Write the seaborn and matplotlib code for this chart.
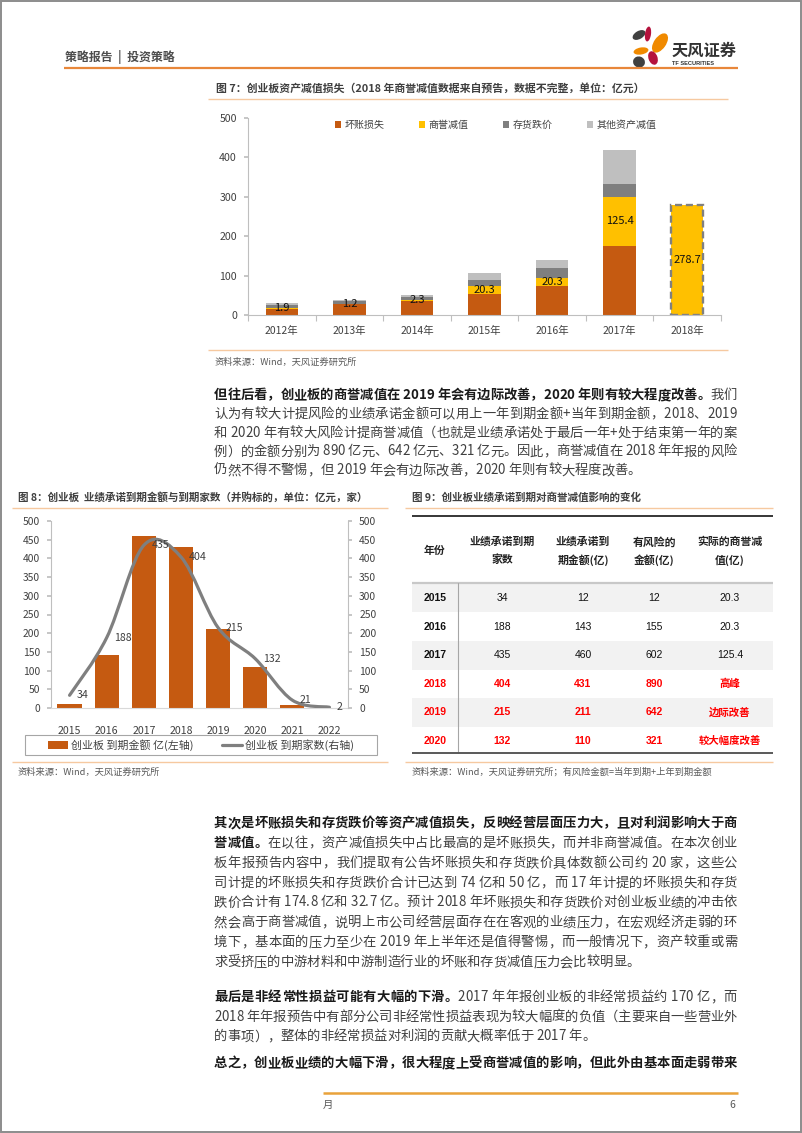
import numpy as np
import pandas as pd
import matplotlib
matplotlib.use('Agg')
import matplotlib.pyplot as plt
import seaborn as sns
from matplotlib.patches import Rectangle, Ellipse, Patch, PathPatch
from matplotlib.lines import Line2D
from matplotlib.path import Path
from matplotlib.font_manager import FontProperties, findfont, get_font

# ---------------- data ----------------
years7 = ['2012年', '2013年', '2014年', '2015年', '2016年', '2017年', '2018年']
bad_debt = [16, 27, 36, 53, 74, 174.8, 0]
goodwill = [1.9, 1.2, 2.3, 20.3, 20.3, 125.4, 278.7]
inventory = [8, 6.5, 8, 15.5, 25, 32.7, 0]
other_assets = [4, 3, 4, 17.5, 20, 85, 0]
legend7 = ['坏账损失', '商誉减值', '存货跌价', '其他资产减值']

years8 = ['2015', '2016', '2017', '2018', '2019', '2020', '2021', '2022']
amount8 = [12, 143, 460, 431, 211, 110, 7, 0]
count8 = [34, 188, 435, 404, 215, 132, 21, 2]
legend8 = ['创业板 到期金额 亿(左轴)', '创业板 到期家数(右轴)']

table_headers = [['年份'], ['业绩承诺到期', '家数'], ['业绩承诺到', '期金额(亿)'],
                 ['有风险的', '金额(亿)'], ['实际的商誉减', '值(亿)']]
table_years = ['2015', '2016', '2017', '2018', '2019', '2020']
table_count = ['34', '188', '435', '404', '215', '132']
table_amount = ['12', '143', '460', '431', '211', '110']
table_risk = ['12', '155', '602', '890', '642', '321']
table_goodwill = ['20.3', '20.3', '125.4', '高峰', '边际改善', '较大幅度改善']
table_red = [False, False, False, True, True, True]

title7 = '图 7：创业板资产减值损失（2018 年商誉减值数据来自预告，数据不完整，单位：亿元）'
title8 = '图 8：创业板  业绩承诺到期金额与到期家数（并购标的，单位：亿元，家）'
title9 = '图 9：创业板业绩承诺到期对商誉减值影响的变化'
source_a = '资料来源：Wind，天风证券研究所'
source_b = '资料来源：Wind，天风证券研究所；有风险金额=当年到期+上年到期金额'

para1 = [
    [("但往后看，创业板的商誉减值在 2019 年会有边际改善，2020 年则有较大程度改善。", True), ("我们", False)],
    [("认为有较大计提风险的业绩承诺金额可以用上一年到期金额+当年到期金额，2018、2019", False)],
    [("和 2020 年有较大风险计提商誉减值（也就是业绩承诺处于最后一年+处于结束第一年的案", False)],
    [("例）的金额分别为 890 亿元、642 亿元、321 亿元。因此，商誉减值在 2018 年年报的风险", False)],
    [("仍然不得不警惕，但 2019 年会有边际改善，2020 年则有较大程度改善。", False)],
]
para2 = [
    [("其次是坏账损失和存货跌价等资产减值损失，反映经营层面压力大，且对利润影响大于商", True)],
    [("誉减值。", True), ("在以往，资产减值损失中占比最高的是坏账损失，而并非商誉减值。在本次创业", False)],
    [("板年报预告内容中，我们提取有公告坏账损失和存货跌价具体数额公司约 20 家，这些公", False)],
    [("司计提的坏账损失和存货跌价合计已达到 74 亿和 50 亿，而 17 年计提的坏账损失和存货", False)],
    [("跌价合计有 174.8 亿和 32.7 亿。预计 2018 年坏账损失和存货跌价对创业板业绩的冲击依", False)],
    [("然会高于商誉减值，说明上市公司经营层面存在在客观的业绩压力，在宏观经济走弱的环", False)],
    [("境下，基本面的压力至少在 2019 年上半年还是值得警惕，而一般情况下，资产较重或需", False)],
    [("求受挤压的中游材料和中游制造行业的坏账和存货减值压力会比较明显。", False)],
]
para3 = [
    [("最后是非经常性损益可能有大幅的下滑。", True), ("2017 年年报创业板的非经常损益约 170 亿，而", False)],
    [("2018 年年报预告中有部分公司非经常性损益表现为较大幅度的负值（主要来自一些营业外", False)],
    [("的事项），整体的非经常损益对利润的贡献大概率低于 2017 年。", False)],
]
para4 = [
    [("总之，创业板业绩的大幅下滑，很大程度上受商誉减值的影响，但此外由基本面走弱带来", True)],
]

# ---------------- style ----------------
sns.set_theme(style='white')
plt.rcParams['font.family'] = ['Noto Sans CJK SC', 'DejaVu Sans']
plt.rcParams['axes.unicode_minus'] = False

W, H = 802, 1133
fig = plt.figure(figsize=(8.02, 11.33), dpi=100)
fig.patch.set_facecolor('white')


def axpx(l, t, r, b):
    return fig.add_axes([l / W, 1 - b / H, (r - l) / W, (b - t) / H])


C_ORANGE = '#C55A11'
C_YELLOW = '#FFC000'
C_DGRAY = '#7F7F7F'
C_LGRAY = '#BFBFBF'
TXT = '#404040'

# ---------------- figure 7 ----------------
ax7 = axpx(248, 118, 721, 315)
b = np.array(bad_debt, float)
g = np.array(goodwill, float)
iv = np.array(inventory, float)
o = np.array(other_assets, float)
layers = [(b + g + iv + o, C_LGRAY), (b + g + iv, C_DGRAY), (b + g, C_YELLOW), (b, C_ORANGE)]
yellow_patches = []
for k, (tops, col) in enumerate(layers):
    n0 = len(ax7.patches)
    sns.barplot(x=years7, y=tops, color=col, saturation=1, width=0.48,
                errorbar=None, ax=ax7, linewidth=0)
    if k == 2:
        yellow_patches = ax7.patches[n0:]
p18 = yellow_patches[-1]
p18.set_edgecolor('#808080')
p18.set_linewidth(1.7)
p18.set_linestyle((0, (3, 1.6)))
for i, (bv, gv) in enumerate(zip(bad_debt, goodwill)):
    ax7.text(i, bv + gv / 2, f'{gv}', ha='center', va='center', fontsize=8, color='#111111')
ax7.set_ylim(0, 500)
ax7.set_xlim(-0.5, 6.5)
ax7.set_yticks(range(0, 501, 100))
ax7.set_xticks(np.arange(-0.5, 7, 1), minor=True)
for s in ['top', 'right']:
    ax7.spines[s].set_visible(False)
for s in ['left', 'bottom']:
    ax7.spines[s].set_color('#BFBFBF')
    ax7.spines[s].set_linewidth(0.8)
ax7.tick_params(axis='y', left=True, length=3, color='#BFBFBF', labelsize=7.6, labelcolor=TXT, pad=5)
ax7.tick_params(axis='x', which='major', bottom=True, length=0, labelsize=7.5, labelcolor=TXT, pad=8)
ax7.tick_params(axis='x', which='minor', bottom=True, length=4, color='#BFBFBF', width=0.8)
ax7.set_xlabel('')
ax7.set_ylabel('')
h7 = [Patch(facecolor=c, edgecolor='none') for c in [C_ORANGE, C_YELLOW, C_DGRAY, C_LGRAY]]
ax7.legend(h7, legend7, ncol=4, loc='center', bbox_to_anchor=(0.524, 0.964), frameon=False,
           fontsize=7.2, handlelength=0.65, handleheight=0.65, handletextpad=0.35,
           columnspacing=3.4, labelcolor=TXT)

# ---------------- figure 8 ----------------
ax8 = axpx(51, 521, 348, 708)
sns.barplot(x=years8, y=amount8, color=C_ORANGE, saturation=1, width=0.65,
            errorbar=None, ax=ax8, linewidth=0)
ax8.set_ylim(0, 500)
ax8.set_xlim(-0.5, 7.5)
ax8.set_yticks(range(0, 501, 50))
ax8.set_xlabel('')
ax8.set_ylabel('')
ax8b = ax8.twinx()
ax8b.set_ylim(0, 500)
ax8b.set_yticks(range(0, 501, 50))
for a in (ax8, ax8b):
    a.spines['top'].set_visible(False)
    a.spines['left'].set_color('#BFBFBF')
    a.spines['right'].set_color('#BFBFBF')
    a.spines['bottom'].set_color('#D9D9D9')
    for s in a.spines.values():
        s.set_linewidth(0.8)
ax8.spines['right'].set_visible(False)
ax8b.spines['left'].set_visible(False)
ax8b.spines['bottom'].set_visible(False)
ax8.tick_params(axis='y', left=True, length=3, color='#BFBFBF', labelsize=7.4, labelcolor=TXT, pad=5)
ax8.tick_params(axis='x', bottom=False, labelsize=7.6, labelcolor=TXT, pad=7)
ax8b.tick_params(axis='y', right=True, length=3, color='#BFBFBF', labelsize=7.4, labelcolor=TXT, pad=5)

P = np.column_stack([np.arange(len(count8), dtype=float), np.array(count8, float)])
n = len(P)
verts = [tuple(P[0])]
codes = [Path.MOVETO]
for i in range(n - 1):
    pm = P[max(i - 1, 0)]
    p2 = P[min(i + 2, n - 1)]
    c1 = P[i] + (P[i + 1] - pm) / 6.0
    c2 = P[i + 1] - (p2 - P[i]) / 6.0
    verts += [tuple(c1), tuple(c2), tuple(P[i + 1])]
    codes += [Path.CURVE4] * 3
ax8b.add_patch(PathPatch(Path(verts, codes), fill=False, edgecolor=C_DGRAY, lw=2.3,
                         capstyle='round', joinstyle='round'))
for i, v in enumerate(count8):
    ax8b.annotate(str(v), (i, v), xytext=(5.5, 0), textcoords='offset points',
                  ha='left', va='center', fontsize=7.6, color=TXT)
h8 = [Patch(facecolor=C_ORANGE, edgecolor='none'), Line2D([], [], color=C_DGRAY, lw=2.3)]
ax8b.legend(h8, legend8, ncol=2, loc='center', bbox_to_anchor=(201 / W, 1 - 745 / H),
            bbox_transform=fig.transFigure, frameon=False, fontsize=7.9,
            handlelength=1.8, handleheight=0.7, handletextpad=0.3, columnspacing=2.6,
            labelcolor=TXT)

# ---------------- overlay (page) ----------------
ov = fig.add_axes([0, 0, 1, 1])
ov.set_xlim(0, W)
ov.set_ylim(H, 0)
ov.axis('off')


def hline(x0, x1, y, color, lw):
    ov.plot([x0, x1], [y, y], color=color, lw=lw, solid_capstyle='butt')


# page border
ov.add_patch(Rectangle((0.8, 0.8), W - 1.6, H - 1.6, fill=False, ec='#8C8C8C', lw=1.4))

# header
ov.text(65, 57, '策略报告  |  投资策略', fontsize=8.6, weight='bold', color='#4D4D4D',
        ha='left', va='center')
hline(64, 738, 68, '#E8873A', 1.6)
petals = [((639, 35), 14, 8, -30, '#404040'), ((648, 34), 6, 15, 8, '#B5123D'),
          ((660, 43), 12, 22, 35, '#F08A00'), ((641, 51), 15, 7, -10, '#F08A00'),
          ((653, 58), 9, 14, -20, '#B5123D'), ((639, 62), 12, 11, 20, '#404040')]
for c, w_, h_, ang, col in petals:
    ov.add_patch(Ellipse(c, w_, h_, angle=ang, color=col, lw=0))
ov.text(672, 51, '天风证券', fontsize=11.7, weight='bold', color='#333333', ha='left', va='center')
ov.text(672, 63.5, 'TF SECURITIES', fontsize=4.1, weight='bold', color='#333333', ha='left',
        va='center', family=['Liberation Sans', 'DejaVu Sans'])

# figure 7 frame texts
PALE = '#F6C9A0'
ov.text(216, 88, title7, fontsize=7.85, weight='bold', color='#3F3F3F', ha='left', va='center')
hline(208, 728, 99, PALE, 1.0)
hline(208, 728, 350, PALE, 1.0)
ov.text(215, 362, source_a, fontsize=6.7, color='#595959', ha='left', va='center')

# figure 8 frame
ov.text(18, 497, title8, fontsize=7.6, weight='bold', color='#3F3F3F', ha='left', va='center')
hline(12, 388, 508, PALE, 1.0)
ov.add_patch(Rectangle((25, 735), 352, 20, fill=False, ec='#A6A6A6', lw=0.8))
hline(12, 388, 762, PALE, 1.0)
ov.text(18, 772, source_a, fontsize=6.7, color='#595959', ha='left', va='center')

# figure 9 table
ov.text(412, 497, title9, fontsize=7.6, weight='bold', color='#3F3F3F', ha='left', va='center')
hline(405, 773, 508, PALE, 1.0)
tx0, tx1 = 412, 773
row_top0, row_h = 583.7, 28.6
for r in range(len(table_years)):
    if r % 2 == 0:
        ov.add_patch(Rectangle((tx0, row_top0 + r * row_h), tx1 - tx0, row_h,
                               color='#F2F2F2', lw=0))
hline(tx0, tx1, 516, '#000000', 1.1)
hline(tx0, tx1, 583, '#C8C8C8', 1.6)
ov.plot([458, 458], [583, 753], color='#A6A6A6', lw=0.8)
hline(tx0, tx1, 753, '#595959', 1.4)
colx = [435, 502, 583, 654, 730]
for cx, hd in zip(colx, table_headers):
    if len(hd) == 1:
        ov.text(cx, 551, hd[0], fontsize=7.8, weight='bold', color='#222222', ha='center', va='center')
    else:
        ov.text(cx, 542, hd[0], fontsize=7.8, weight='bold', color='#222222', ha='center', va='center')
        ov.text(cx, 560, hd[1], fontsize=7.8, weight='bold', color='#222222', ha='center', va='center')
NUMF = ['Liberation Sans', 'Noto Sans CJK SC']
for r in range(len(table_years)):
    yc = row_top0 + (r + 0.5) * row_h
    red = table_red[r]
    col = '#FF0000' if red else '#111111'
    ov.text(colx[0], yc, table_years[r], fontsize=7.5, weight='bold', color=col,
            ha='center', va='center', family=NUMF)
    for cx, vals in zip(colx[1:], [table_count, table_amount, table_risk, table_goodwill]):
        ov.text(cx, yc, vals[r], fontsize=7.5, weight='bold' if red else 'normal', color=col,
                ha='center', va='center', family=NUMF)
hline(405, 773, 762, PALE, 1.0)
ov.text(412, 772, source_b, fontsize=6.7, color='#595959', ha='left', va='center')

# ---------------- body paragraphs (justified) ----------------
_paths = {}
_scale = {}


def _font(bold):
    if bold not in _paths:
        _paths[bold] = findfont(FontProperties(family='Noto Sans CJK SC',
                                               weight='bold' if bold else 'normal'))
    return get_font(_paths[bold])


def adv(ch, bold, px):
    f = _font(bold)
    f.set_size(px, 72)
    if bold not in _scale:
        em = f.load_char(ord('中')).linearHoriAdvance / 65536.0
        _scale[bold] = px / em if em > 0 else 1.0
    return f.load_char(ord(ch)).linearHoriAdvance / 65536.0 * _scale[bold]


BODY_PX = 13.3
X_L, X_R = 214, 737


def draw_para(lines, y_first, spacing, justify_last=False):
    for li, segs in enumerate(lines):
        last = (li == len(lines) - 1) and not justify_last
        chars = [(ch, bd) for txt, bd in segs for ch in txt]
        advs = [adv(ch, bd, BODY_PX) for ch, bd in chars]
        extra = 0.0
        if not last and len(chars) > 1:
            extra = (X_R - X_L - sum(advs)) / (len(chars) - 1)
        x = X_L
        yb = y_first + li * spacing + 0.38 * BODY_PX
        for (ch, bd), a in zip(chars, advs):
            if ch != ' ':
                ov.text(x, yb, ch, fontsize=BODY_PX * 0.72,
                        weight='bold' if bd else 'normal',
                        color='#1A1A1A' if bd else '#404040',
                        ha='left', va='baseline', family=['Noto Sans CJK SC'])
            x += a + extra


draw_para(para1, 394, 18.8)
draw_para(para2, 822, 19.85)
draw_para(para3, 996, 19.6)
draw_para(para4, 1062, 19.6, justify_last=True)

# footer
hline(323, 738, 1093, '#E9A23B', 1.8)
ov.text(323, 1105, '月', fontsize=7.5, color='#595959', ha='left', va='center')
ov.text(735, 1105, '6', fontsize=7.5, color='#595959', ha='right', va='center')

fig.savefig('out.png', dpi=100, facecolor='white')
